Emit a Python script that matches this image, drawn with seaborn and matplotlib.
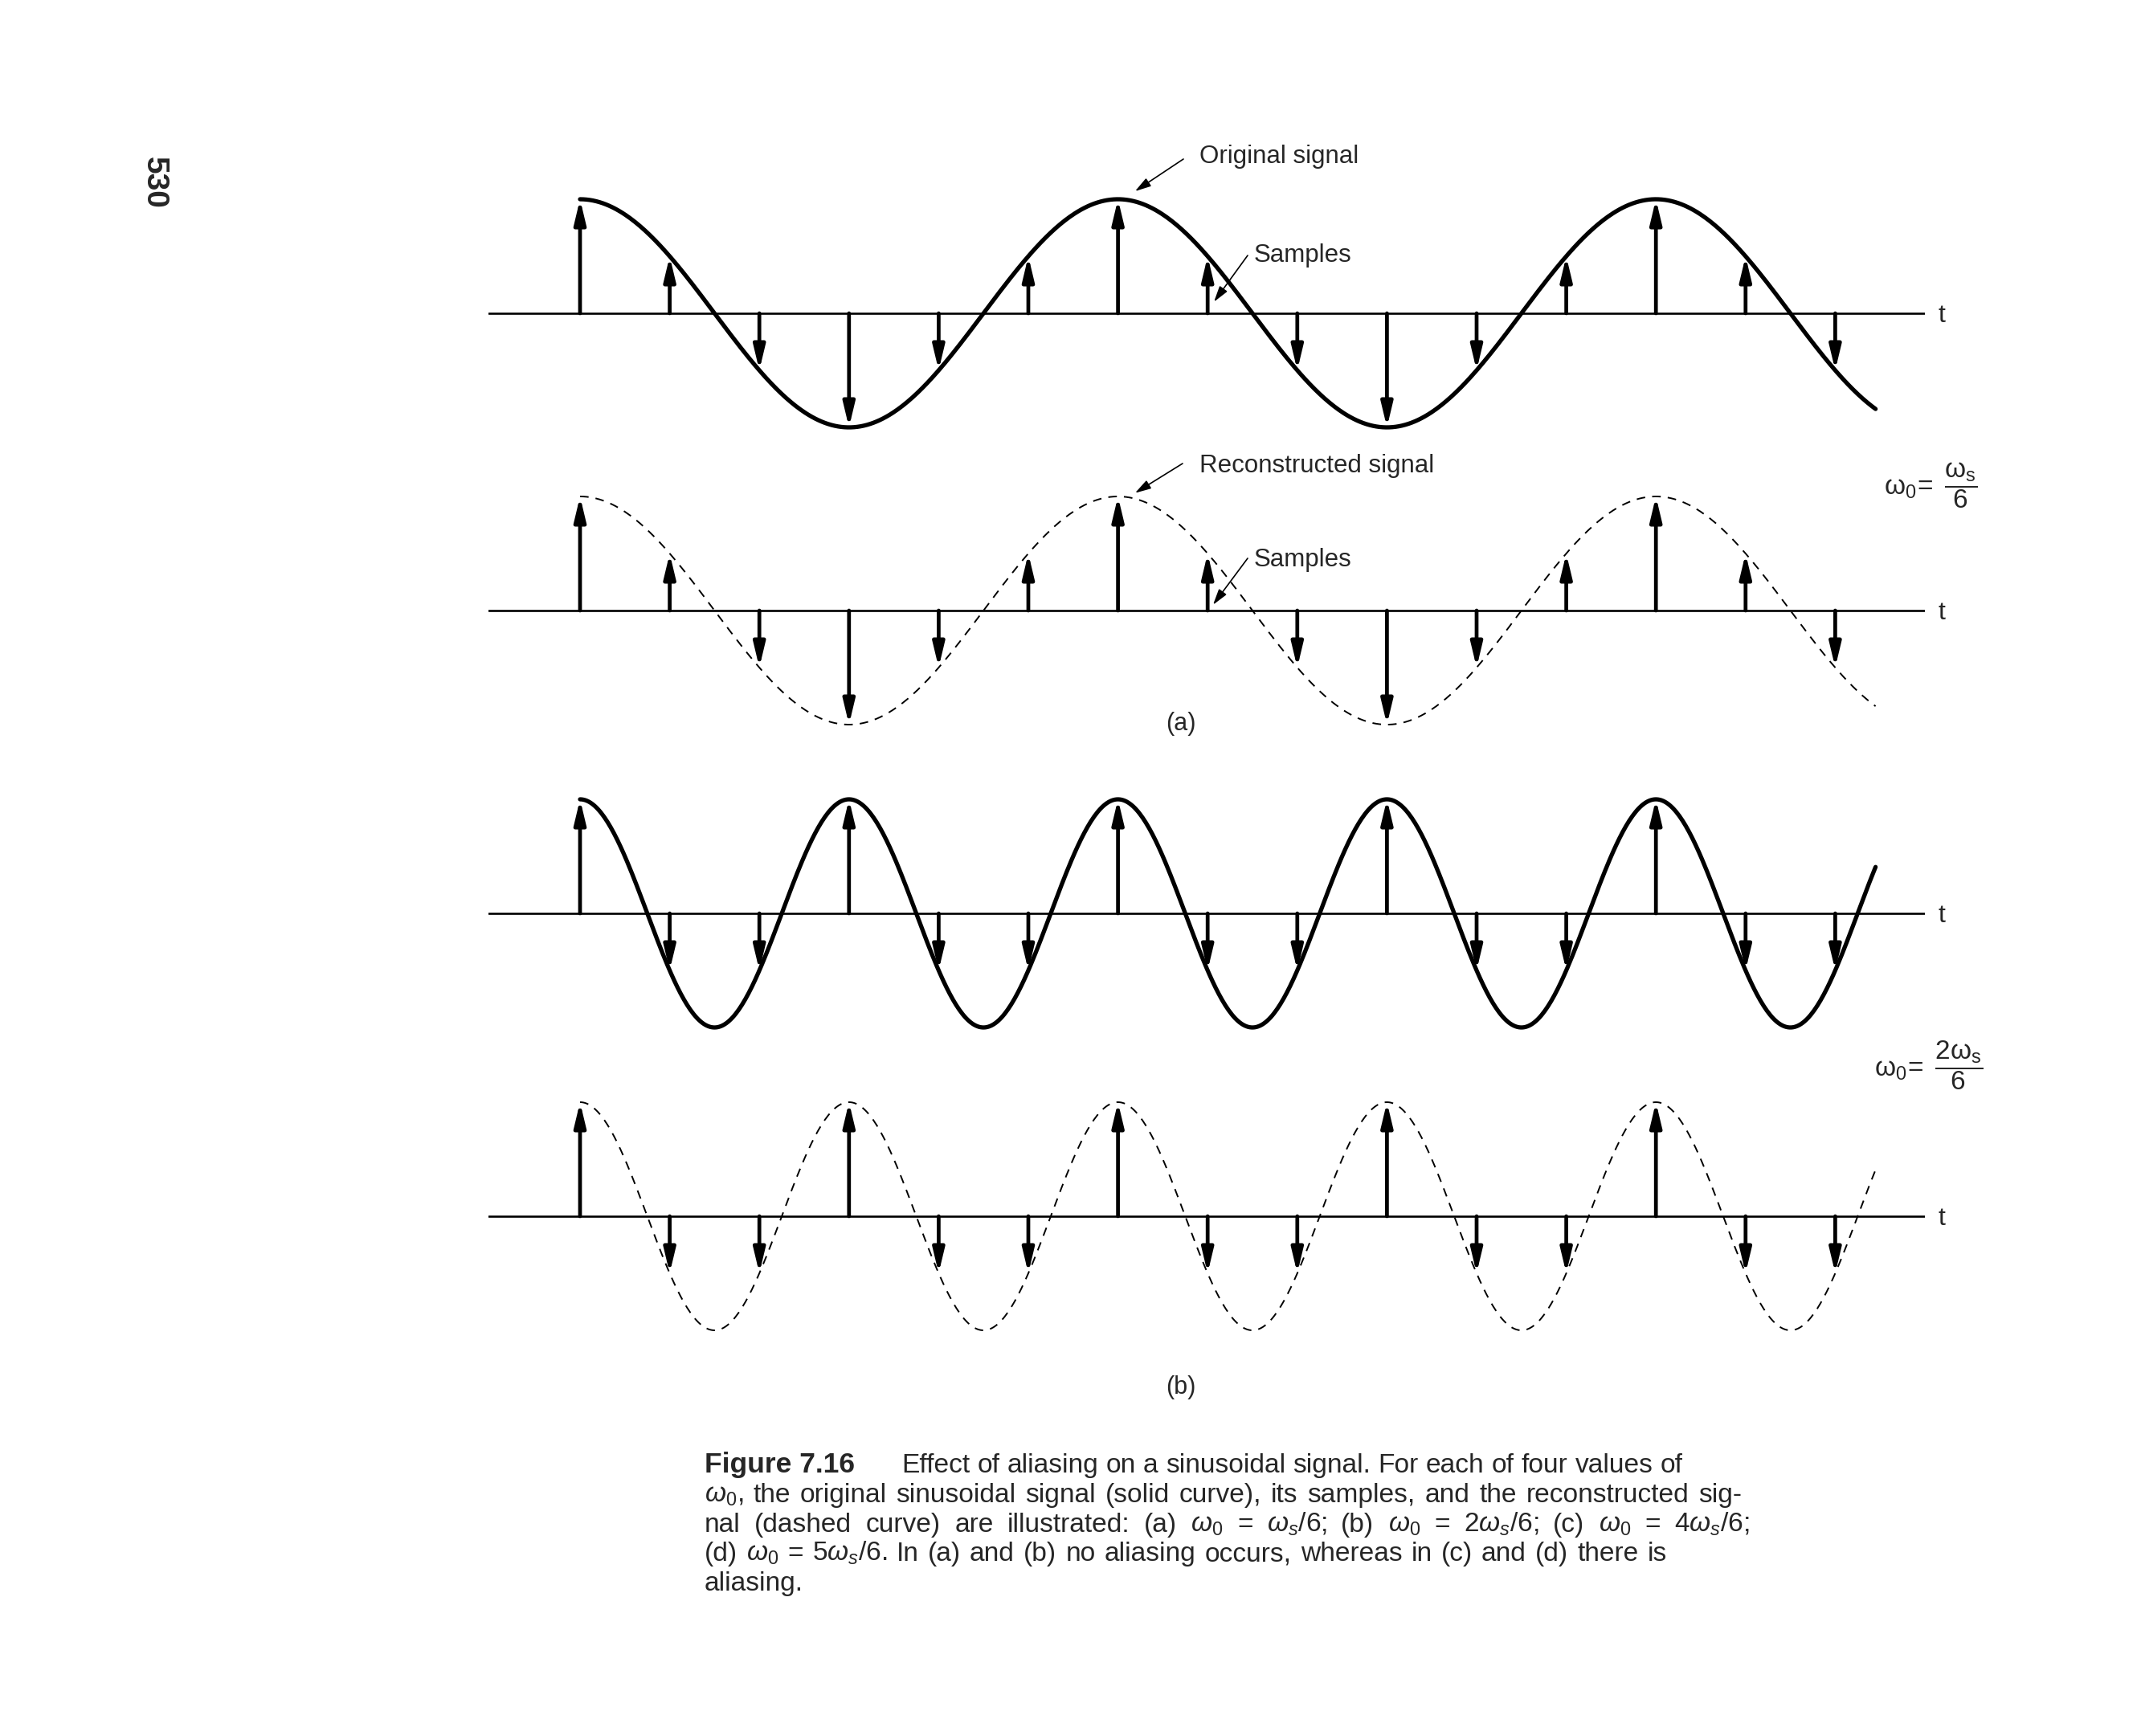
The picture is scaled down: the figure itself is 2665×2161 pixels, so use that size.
import numpy as np
import pandas as pd
import matplotlib
matplotlib.use('Agg')
import matplotlib.pyplot as plt
import seaborn as sns

# sample index n and the sample values
sample_n = np.arange(15)
samples_a = [1, 0.5, -0.5, -1, -0.5, 0.5, 1, 0.5, -0.5, -1, -0.5, 0.5, 1, 0.5, -0.5]
samples_b = [1, -0.5, -0.5, 1, -0.5, -0.5, 1, -0.5, -0.5, 1, -0.5, -0.5, 1, -0.5, -0.5]
# w0 / ws for (a) and (b)
ratio_a = 1 / 6
ratio_b = 2 / 6
t_end = 14.45

caption_lines = [
    "Effect of aliasing on a sinusoidal signal. For each of four values of",
    r"$\omega_0$, the original sinusoidal signal (solid curve), its samples, and the reconstructed sig-",
    r"nal (dashed curve) are illustrated: (a) $\omega_0$ = $\omega_s$/6; (b) $\omega_0$ = 2$\omega_s$/6; (c) $\omega_0$ = 4$\omega_s$/6;",
    r"(d) $\omega_0$ = 5$\omega_s$/6. In (a) and (b) no aliasing occurs, whereas in (c) and (d) there is",
    "aliasing.",
]

sns.set_style('white')
plt.rcParams['font.family'] = ['Liberation Sans', 'DejaVu Sans']
plt.rcParams['mathtext.fontset'] = 'custom'
plt.rcParams['mathtext.rm'] = 'Liberation Sans'
plt.rcParams['mathtext.it'] = 'Liberation Sans:italic'
plt.rcParams['mathtext.bf'] = 'Liberation Sans:bold'

W, H = 2665, 2161
fig = plt.figure(figsize=(W / 100, H / 100), dpi=100)
fig.patch.set_facecolor('white')


def fx(x):
    return x / W


def fy(y):
    return 1 - y / H


# layout in pixels
x_left, x_right, x_first, dx = 608, 2396, 722, 111.6
amp_px = 142
axis_rows = [390, 760, 1137, 1514]
ylim = 1.3

t = np.linspace(0, t_end, 800)
curves = pd.DataFrame({'t': t,
                       'a': np.cos(2 * np.pi * ratio_a * t),
                       'b': np.cos(2 * np.pi * ratio_b * t)})

stem_kw = dict(arrowstyle='-|>,head_length=1.8,head_width=0.43', mutation_scale=10,
               lw=3.4, color='black', shrinkA=0, shrinkB=0)
panels = [('a', samples_a, '-'), ('a', samples_a, '--'),
          ('b', samples_b, '-'), ('b', samples_b, '--')]
axes = []
for (key, samp, ls), yc in zip(panels, axis_rows):
    h = 2 * ylim * amp_px
    ax = fig.add_axes([fx(x_left), fy(yc + h / 2), (x_right - x_left) / W, h / H])
    if ls == '-':
        sns.lineplot(data=curves, x='t', y=key, ax=ax, color='black', lw=3.8)
    else:
        sns.lineplot(data=curves, x='t', y=key, ax=ax, color='black', lw=1.4,
                     linestyle=(0, (5.5, 4.5)))
    ax.axhline(0, color='black', lw=1.9)
    for n, v in zip(sample_n, samp):
        ax.annotate('', xy=(n, v), xytext=(n, 0), arrowprops=stem_kw)
    ax.set_xlim((x_left - x_first) / dx, (x_right - x_first) / dx)
    ax.set_ylim(-ylim, ylim)
    ax.axis('off')
    fig.text(fx(2417), fy(yc + 11), 't', fontsize=23, ha='center', va='baseline')
    axes.append(ax)

# callouts
lab_kw = dict(arrowstyle='-|>,head_length=1.2,head_width=0.35', mutation_scale=10,
              lw=1.2, color='black', shrinkA=0, shrinkB=0)
callouts = [(0, 'Original signal', (1493, 203), (1473, 198), (6.19, 1.07)),
            (0, 'Samples', (1561, 326), (1553, 318), (7.07, 0.10)),
            (1, 'Reconstructed signal', (1493, 588), (1472, 577), (6.19, 1.03)),
            (1, 'Samples', (1561, 705), (1553, 695), (7.06, 0.05))]
for i, label, (tx, ty), tail, tip in callouts:
    fig.text(fx(tx), fy(ty), label, fontsize=22.5, va='baseline')
    axes[i].annotate('', xy=tip, xycoords='data', xytext=(fx(tail[0]), fy(tail[1])),
                     textcoords='figure fraction', arrowprops=lab_kw)

fig.text(fx(1470), fy(901), '(a)', fontsize=22, ha='center', va='center')
fig.text(fx(1470), fy(1727), '(b)', fontsize=22, ha='center', va='center')

fig.text(fx(2345), fy(604), r'$\mathrm{\omega_0\!=\ \dfrac{\omega_s}{6}}$',
         fontsize=24, ha='left', va='center')
fig.text(fx(2333), fy(1326), r'$\mathrm{\omega_0\!=\ \dfrac{2\omega_s}{6}}$',
         fontsize=24, ha='left', va='center')

fig.text(fx(192), fy(227), '530', rotation=-90, fontsize=28, fontweight='bold',
         ha='center', va='center')

# caption, justified word by word
renderer = fig.canvas.get_renderer()


def text_width(s, fs, **kw):
    tmp = fig.text(0, 0, s, fontsize=fs, **kw)
    w = tmp.get_window_extent(renderer=renderer).width
    tmp.remove()
    return w


fig_fs = min(25.5, 21 * 206 / text_width('Figure 7.16', 21, fontweight='bold'))
fig.text(fx(877), fy(1833), 'Figure 7.16', fontsize=fig_fs, fontweight='bold', va='baseline')

cap_pos = [(1122, 2095, 1833), (877, 2168, 1870), (877, 2178, 1907),
           (877, 2075, 1943), (877, None, 1980)]

# font size so that every justified line keeps at least a normal word space
fits = []
for (x0, x1, y), s in zip(cap_pos[:4], caption_lines[:4]):
    words = s.split(' ')
    natural = sum(text_width(w, 20) for w in words) + 0.28 * 20 * 100 / 72 * (len(words) - 1)
    fits.append((x1 - x0) / natural)
cap_fs = 20 * min(fits)


def place_words(x0, x1, y, s):
    words = s.split(' ')
    items = [fig.text(0, fy(y), w, fontsize=cap_fs, va='baseline', ha='left') for w in words]
    ws = [it.get_window_extent(renderer=renderer).width for it in items]
    if x1 is None:
        gap = 0.28 * cap_fs * 100 / 72
    else:
        gap = (x1 - x0 - sum(ws)) / (len(words) - 1)
    x = x0
    for it, w in zip(items, ws):
        it.set_x(fx(x))
        x += w + gap


for (x0, x1, y), s in zip(cap_pos, caption_lines):
    place_words(x0, x1, y, s)

fig.savefig('out.png', dpi=100)
